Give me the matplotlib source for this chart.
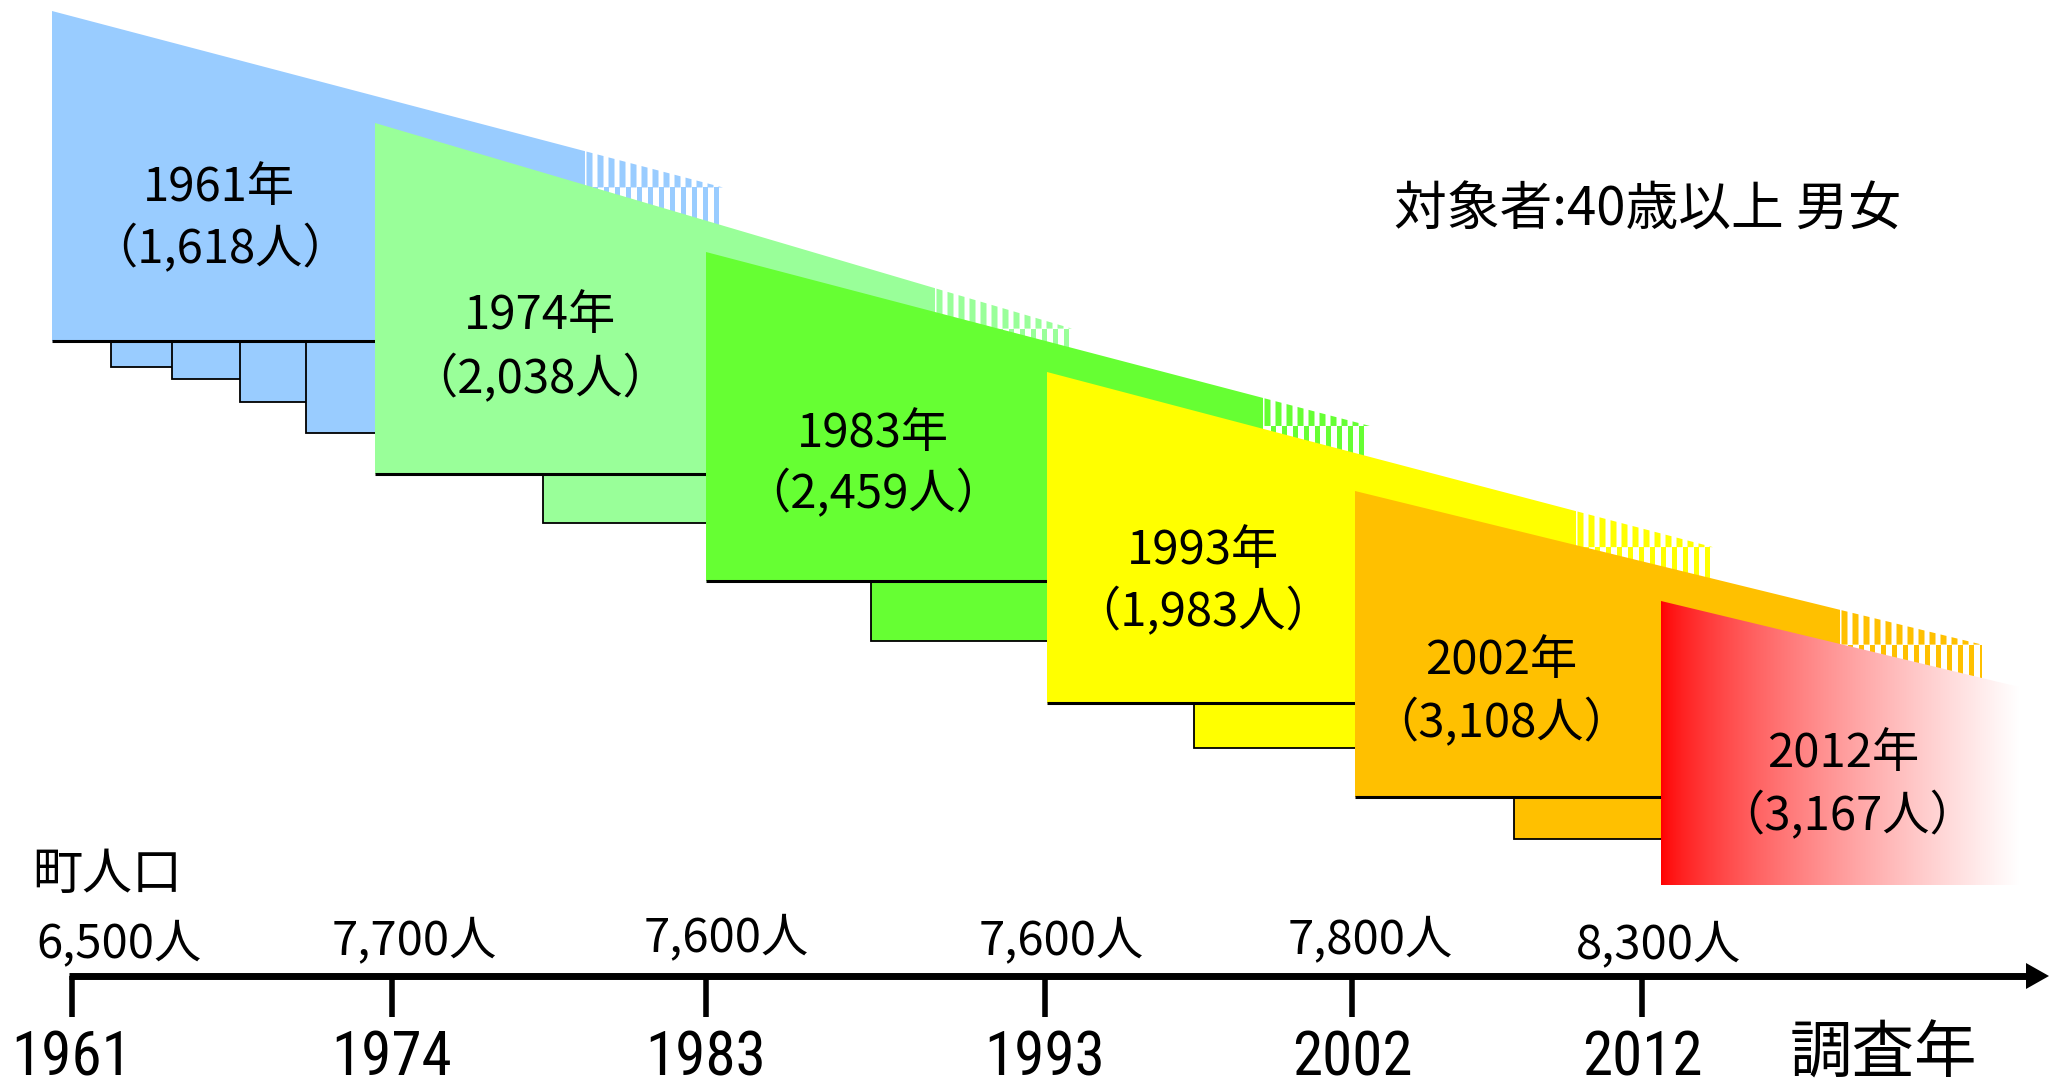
import numpy as np
import matplotlib
matplotlib.use("Agg")
import matplotlib.pyplot as plt
from matplotlib.patches import Polygon, Rectangle
from matplotlib import font_manager

# Survey rounds, number of examinees, and town population at each round
survey_years = [1961, 1974, 1983, 1993, 2002, 2012]
participants = [1618, 2038, 2459, 1983, 3108, 3167]
town_population = [6500, 7700, 7600, 7600, 7800, 8300]
subject_note = "対象者:40歳以上 男女"
population_title = "町人口"
axis_title = "調査年"

JP = "Noto Sans CJK JP"
_fonts = font_manager.fontManager.ttflist
_names = {f.name for f in _fonts}


def pick_narrow():
    """Return (family, stretch) of a condensed Latin face, if one is installed."""
    for name in ("Liberation Sans Narrow", "Roboto Condensed", "Open Sans Condensed"):
        if name in _names:
            return name, "normal"
    for name in ("Roboto", "Open Sans", "Liberation Sans"):
        for f in _fonts:
            if f.name == name and f.style == "normal" and f.stretch in (
                    "condensed", "semi-condensed", "extra-condensed"):
                return name, f.stretch
    return None, "normal"


NARROW, NARROW_STRETCH = pick_narrow()
plt.rcParams["font.family"] = [JP, "DejaVu Sans"]

W, H = 2050, 1085
fig = plt.figure(figsize=(W / 100, H / 100), dpi=100)
ax = fig.add_axes([0, 0, 1, 1])
ax.axis("off")

# ---- layout of the cohort blocks (pixel grid, y downwards) ----
blk_left = [52, 375, 706, 1047, 1355, 1661]
blk_top = [11, 123, 252, 372, 491, 601]
blk_slope = [0.263, 0.295, 0.262, 0.263, 0.245, 0.24]
blk_solid_end = [585, 935, 1263, 1576, 1840, 2030]
blk_stripe_end = [723, 1072, 1370, 1713, 1982, 2030]
blk_bottom = [341, 474, 581, 703, 797, 885]
blk_steps = [[(111, 367), (172, 379), (240, 402), (306, 433)],
             [(543, 523)], [(871, 641)], [(1194, 748)], [(1514, 839)], []]
blk_colors = ["#99CCFF", "#99FF99", "#66FF33", "#FFFF00", "#FFC000", "#FF0000"]

n = len(survey_years)


def edge(i, x):
    return blk_top[i] + blk_slope[i] * (x - blk_left[i])


for i in range(n):
    z = 10 + 10 * i
    L, T = blk_left[i], blk_top[i]
    B = blk_bottom[i]
    Sx = blk_solid_end[i]
    col = blk_colors[i]
    R = blk_left[i + 1] if i + 1 < n else Sx

    # stepped boxes hanging below the block
    steps = blk_steps[i]
    for k, (sx, sy) in enumerate(steps):
        ex = steps[k + 1][0] if k + 1 < len(steps) else R
        ax.add_patch(Rectangle((sx, B), ex - sx, sy - B, facecolor=col,
                               edgecolor="none", zorder=z))
        ax.plot([sx, sx, ex], [B, sy, sy], color="black", lw=1.3,
                zorder=z + 1, solid_capstyle="butt", solid_joinstyle="miter")

    if i < n - 1:
        ax.add_patch(Polygon([(L, T), (Sx, edge(i, Sx)), (Sx, B), (L, B)],
                             closed=True, facecolor=col, edgecolor="none",
                             zorder=z + 2))
        # fading tail drawn as vertical stripes
        Ex = blk_stripe_end[i]
        ysplit = edge(i, Ex)
        period, width = 11.0, 6.0
        x = Sx + 1.5
        while x < Ex:
            xe = min(x + width, Ex)
            ax.add_patch(Polygon([(x, edge(i, x)), (xe, edge(i, xe)),
                                  (xe, ysplit), (x, ysplit)], closed=True,
                                 facecolor=col, edgecolor="none", zorder=z + 2))
            x += period
        x = Sx + 1.5 + width
        while x < Ex:
            xe = min(x + period - width, Ex)
            ax.add_patch(Rectangle((x, ysplit), xe - x, B - ysplit,
                                   facecolor=col, edgecolor="none", zorder=z + 2))
            x += period
        ax.plot([L, R], [B, B], color="black", lw=2.2, zorder=z + 3,
                solid_capstyle="butt")
    else:
        # newest survey: red fading to white
        clip = Polygon([(L, T), (Sx, edge(i, Sx)), (Sx, B), (L, B)], closed=True,
                       fill=False, edgecolor="none", zorder=z + 2)
        ax.add_patch(clip)
        t = np.linspace(0, 1, 400)
        w = np.clip((t / 0.97) ** 0.72, 0, 1)
        grad = np.stack([np.ones_like(t), w, w], axis=-1)[None, :, :]
        im = ax.imshow(grad, extent=(L, Sx, B, T), aspect="auto",
                       interpolation="bilinear", zorder=z + 2)
        im.set_clip_path(clip)

# ---- block captions ----
cap1_xy = [(219, 188), (540, 316), (873, 434), (1203, 551), (1501, 661), (1843, 754)]
cap2_xy = [(220, 250), (540, 380), (873, 495), (1203, 613), (1501, 724), (1847, 817)]
for i in range(n):
    ax.text(*cap1_xy[i], f"{survey_years[i]}年", ha="center", va="center",
            fontsize=34, zorder=200)
    ax.text(*cap2_xy[i], f"（{participants[i]:,}人）", ha="center", va="center",
            fontsize=34, zorder=200)

ax.text(1648, 210, subject_note, ha="center", va="center", fontsize=38, zorder=200)

# ---- timeline ----
tick_x = [72, 392, 706, 1045, 1352, 1642]
axis_y = 976
ax.plot([69, 2030], [axis_y, axis_y], color="black", lw=5, solid_capstyle="butt",
        zorder=150)
ax.add_patch(Polygon([(2026, 963), (2049, axis_y), (2026, 989)], closed=True,
                     facecolor="black", edgecolor="none", zorder=150))
for tx in tick_x:
    ax.plot([tx, tx], [axis_y, 1017], color="black", lw=4, solid_capstyle="butt",
            zorder=150)

if NARROW:
    year_kw = dict(family=[NARROW, JP], fontstretch=NARROW_STRETCH, fontsize=44)
else:
    year_kw = dict(family=[JP], fontsize=39)
for tx, yr in zip(tick_x, survey_years):
    ax.text(tx, 1075, str(yr), ha="center", va="baseline", zorder=200, **year_kw)
ax.text(1883, 1055, axis_title, ha="center", va="center", fontsize=45, zorder=200)

pop_x = [119, 414, 726, 1061, 1370, 1659]
pop_base = [957, 954, 951, 954, 953, 958]
for px, pb, pop in zip(pop_x, pop_base, town_population):
    ax.text(px, pb, f"{pop:,}人", ha="center", va="baseline", fontsize=34,
            zorder=200)
ax.text(107, 875, population_title, ha="center", va="center", fontsize=36,
        zorder=200)

ax.set_xlim(0, W)
ax.set_ylim(H, 0)
fig.savefig("out.png", dpi=100, facecolor="white")
